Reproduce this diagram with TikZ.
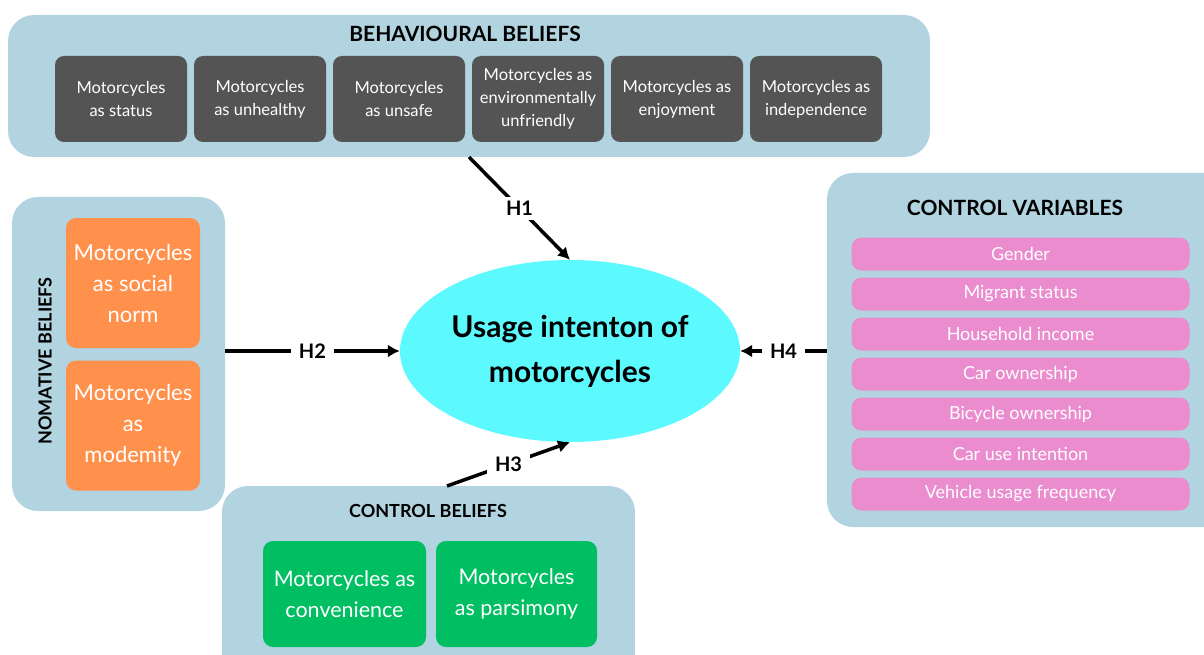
\documentclass[tikz,border=0pt]{standalone}
\usepackage{fontspec}
\setmainfont{Lato}
\usetikzlibrary{shapes.geometric,arrows.meta}
\definecolor{panel}{HTML}{B1D4E0}
\definecolor{graybox}{HTML}{545454}
\definecolor{orangebox}{HTML}{FF914D}
\definecolor{greenbox}{HTML}{00BF63}
\definecolor{pinkbox}{HTML}{EA8CCE}
\definecolor{cyanell}{HTML}{5CF9FF}
\tikzset{
  panelbox/.style={fill=panel, draw=none, rounded corners=26pt, inner sep=0pt},
  gbox/.style={fill=graybox, text=white, rounded corners=9pt, align=center, inner sep=0pt,
    minimum width=132pt, minimum height=86pt, font=\fontsize{16.5}{23}\selectfont},
  obox/.style={fill=orangebox, text=white, rounded corners=10pt, align=center, inner sep=0pt,
    minimum width=134pt, minimum height=130pt, font=\fontsize{22}{31}\selectfont},
  grbox/.style={fill=greenbox, text=white, rounded corners=10pt, align=center, inner sep=0pt,
    minimum height=106pt, font=\fontsize{21.5}{31}\selectfont},
  pbox/.style={fill=pinkbox, text=white, rounded corners=10pt, inner sep=0pt,
    minimum width=338pt, minimum height=33pt, font=\fontsize{18}{20}\selectfont},
  ptitle/.style={font=\bfseries\fontsize{21}{24}\selectfont, text=black},
  conn/.style={line width=3.5pt, -{Latex[length=12pt,width=13pt]}},
  hlab/.style={fill=white, inner xsep=8pt, inner ysep=4pt, font=\bfseries\fontsize{20}{22}\selectfont},
}
\begin{document}
\begin{tikzpicture}[x=1pt,y=-1pt]
\useasboundingbox (0,0) rectangle (1204,655);
\clip (0,0) rectangle (1204,655);
% panels
\node[panelbox, minimum width=922pt, minimum height=142pt] (bb) at (469,86) {};
\node[panelbox, minimum width=213pt, minimum height=314pt] (norm) at (118.5,354) {};
\node[panelbox, minimum width=413pt, minimum height=204pt] (cb) at (428.5,588) {};
\node[panelbox, minimum width=410pt, minimum height=354pt] (cv) at (1032,350) {};
% titles
\node[ptitle] (bbt) at (465,34) {BEHAVIOURAL BELIEFS};
\node[ptitle] (cvt) at (1015,208) {CONTROL VARIABLES};
\node[ptitle, font=\bfseries\fontsize{18}{20}\selectfont] (cbt) at (428,511) {CONTROL BELIEFS};
\node[ptitle, font=\bfseries\fontsize{18}{20}\selectfont, rotate=90] (nt) at (45,361) {NOMATIVE BELIEFS};
% behavioural boxes
\node[gbox] (b1) at (121,99) {Motorcycles\\as status};
\node[gbox] (b2) at (260,99) {Motorcycles\\as unhealthy};
\node[gbox] (b3) at (399,99) {Motorcycles\\as unsafe};
\node[gbox] (b4) at (538,99) {Motorcycles as\\environmentally\\unfriendly};
\node[gbox] (b5) at (677,99) {Motorcycles as\\enjoyment};
\node[gbox] (b6) at (816,99) {Motorcycles as\\independence};
% normative boxes
\node[obox] (n1) at (133,283) {Motorcycles\\as social\\norm};
\node[obox] (n2) at (133,425.5) {Motorcycles\\as\\modemity};
% control beliefs boxes
\node[grbox, minimum width=163pt] (c1) at (344.5,594) {Motorcycles as\\convenience};
\node[grbox, minimum width=161pt] (c2) at (516.5,594) {Motorcycles\\as parsimony};
% control variables
\node[pbox] (v1) at (1020.5,254) {Gender};
\node[pbox] (v2) at (1020.5,294) {Migrant status};
\node[pbox] (v3) at (1020.5,334) {Household income};
\node[pbox] (v4) at (1020.5,374) {Car ownership};
\node[pbox] (v5) at (1020.5,414) {Bicycle ownership};
\node[pbox] (v6) at (1020.5,454) {Car use intention};
\node[pbox] (v7) at (1020.5,494) {Vehicle usage frequency};
% central ellipse
\node[ellipse, fill=cyanell, minimum width=340pt, minimum height=182pt, inner sep=0pt,
  align=center, font=\bfseries\fontsize{30}{45}\selectfont] (ell) at (570,351)
  {Usage intenton of\\motorcycles};
% connectors
\coordinate (h1s) at (469,157);
\coordinate (h3s) at (447,486);
\draw[conn] (h1s) -- node[hlab] (l1) {H1} (ell.north);
\draw[conn] (norm.east |- ell.west) -- node[hlab] (l2) {H2} (ell.west);
\draw[conn] (h3s) -- node[hlab] (l3) {H3} (ell.south);
\draw[conn] (cv.west |- ell.east) -- node[hlab] (l4) {H4} (ell.east);
\end{tikzpicture}
\end{document}
